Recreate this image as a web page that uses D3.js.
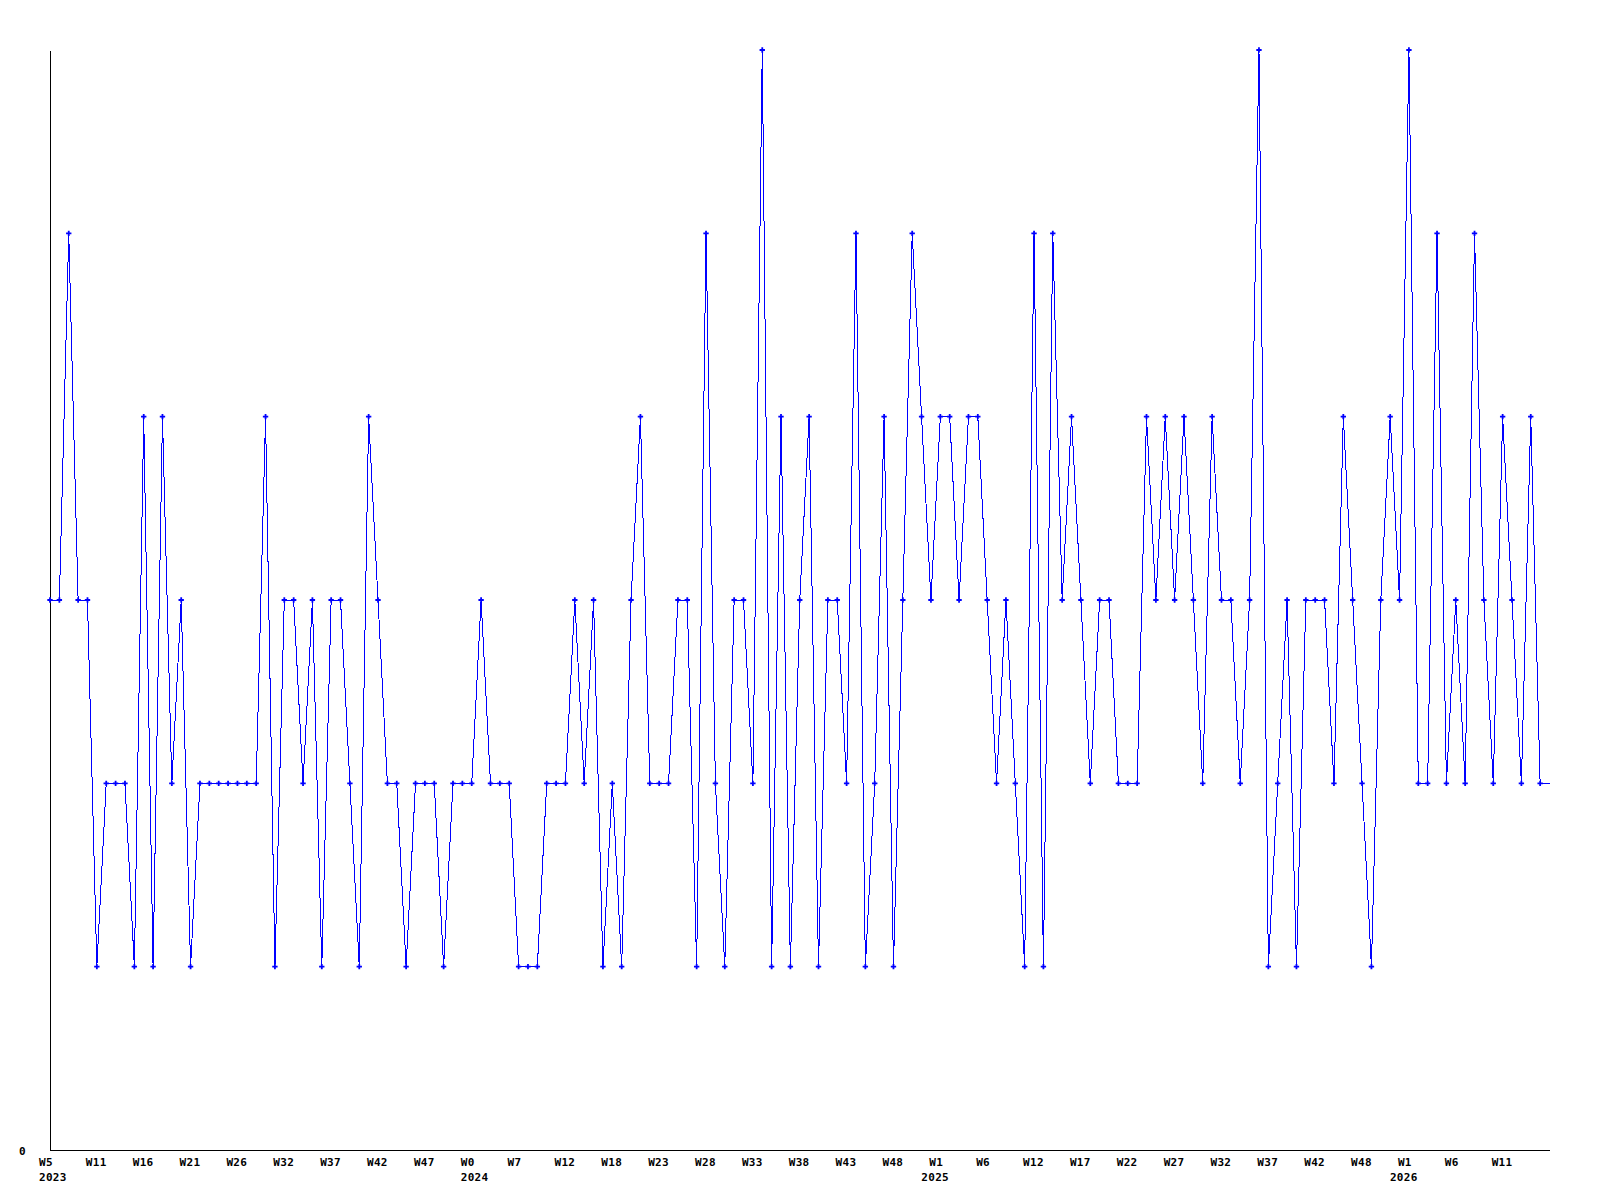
<!DOCTYPE html>
<html>
<head>
<meta charset="utf-8">
<script src="https://cdn.jsdelivr.net/npm/d3@7"></script>
<style>
  body { margin: 0; background: #fff; }
  .axis text { font-family: "DejaVu Sans Mono", "Liberation Mono", monospace; font-weight: bold; font-size: 11px; letter-spacing: 0.3px; fill: #000; }
  .axis path { stroke: #000; stroke-width: 1; shape-rendering: crispEdges; }
</style>
</head>
<body>
<div id="plot"></div>
<script>
// weekly values, one per point, starting W5 2023
var values = [
  3,3,5,3,3,1,2,2,2,1,4,1,4,2,3,1,2,2,2,2,2,2,2,4,1,3,3,
  2,3,1,3,3,2,1,4,3,2,2,1,2,2,2,1,2,2,2,3,2,2,2,1,1,1,2,
  2,2,3,2,3,1,2,1,3,4,2,2,2,3,3,1,5,2,1,3,3,2,6,1,4,1,3,4,
  1,3,3,2,5,1,2,4,1,3,5,4,3,4,4,3,4,4,3,2,3,2,1,5,1,5,3,
  4,3,2,3,3,2,2,2,4,3,4,3,4,3,2,4,3,3,2,3,6,1,2,3,1,3,3,
  3,2,4,3,2,1,3,4,3,6,2,2,5,2,3,2,5,3,2,4,3,2,4,2,2
];

// one label every 5 points
var tickStep = 5;
var weekLabels = ["W5","W11","W16","W21","W26","W32","W37","W42","W47","W0","W7","W12",
  "W18","W23","W28","W33","W38","W43","W48","W1","W6","W12","W17","W22","W27","W32",
  "W37","W42","W48","W1","W6","W11"];
var yearTickIdx = [0, 9, 19, 29];
var yearLabels = ["2023", "2024", "2025", "2026"];
var yTicks = [0];

var data = values.map(function(v, i) { return {x: i, y: v}; });

var margin = {top: 50, right: 50, bottom: 50, left: 50};
var width = 1600, height = 1200;

var xScale = d3.scaleLinear()
  .domain([0, values.length - 1])
  .range([margin.left, 1549.5]);

var yScale = d3.scaleLinear()
  .domain([0, 6])
  .range([height - margin.bottom, margin.top]);

var svg = d3.select("#plot").append("svg")
  .attr("width", width)
  .attr("height", height)
  .style("display", "block");

svg.append("rect").attr("width", width).attr("height", height).attr("fill", "#fff");

// x axis
var xAxis = d3.axisBottom(xScale)
  .tickValues(d3.range(0, weekLabels.length * tickStep, tickStep))
  .tickFormat(function(d, i) { return weekLabels[i]; })
  .tickSize(0)
  .tickSizeOuter(0)
  .tickPadding(10);

var gx = svg.append("g")
  .attr("class", "x axis")
  .attr("transform", "translate(0," + yScale(0) + ")")
  .call(xAxis);

gx.selectAll(".tick text")
  .attr("text-anchor", "start")
  .attr("dx", -11.5)
  .attr("dy", "0.5em")
  .each(function(d, i) {
    var k = yearTickIdx.indexOf(i);
    if (k < 0) return;
    // short week labels late in the range get the year nudged left
    var shift = (weekLabels[i] === "W1") ? -19.5 : -11.5;
    d3.select(this).append("tspan")
      .attr("x", 0)
      .attr("dx", shift)
      .attr("dy", "1.45em")
      .text(yearLabels[k]);
  });

// y axis
var yAxis = d3.axisLeft(yScale)
  .tickValues(yTicks)
  .tickFormat(d3.format("d"))
  .tickSize(0)
  .tickSizeOuter(0)
  .tickPadding(24);

svg.append("g")
  .attr("class", "y axis")
  .attr("transform", "translate(" + margin.left + ",0)")
  .call(yAxis)
  .selectAll(".tick text").attr("dy", "0.45em");

// line
var plotLine = d3.line()
  .x(function(d) { return xScale(d.x); })
  .y(function(d) { return yScale(d.y); });

svg.append("path")
  .datum(data)
  .attr("d", plotLine)
  .attr("fill", "none")
  .attr("stroke", "#0000ff")
  .attr("stroke-width", 1)
  .style("shape-rendering", "crispEdges");

// point markers (none on the last, open week)
var marker = d3.symbol().type(d3.symbolCross).size(16);

svg.append("g").selectAll("path")
  .data(data.slice(0, -1))
  .enter().append("path")
  .attr("d", marker)
  .attr("transform", function(d) { return "translate(" + xScale(d.x) + "," + yScale(d.y) + ")"; })
  .attr("fill", "#0000ff");
</script>
</body>
</html>
